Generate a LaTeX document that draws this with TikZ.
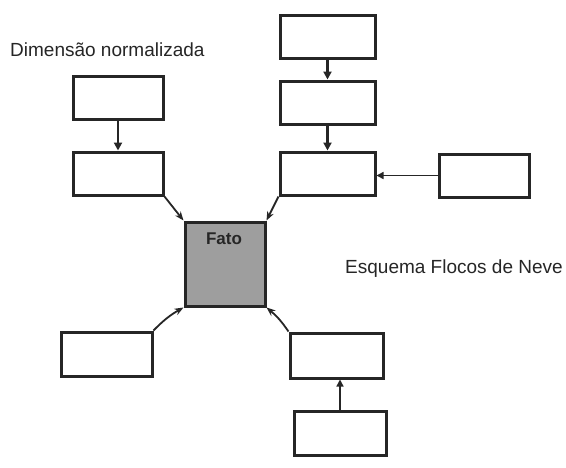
\documentclass[tikz,border=0pt]{standalone}
\usepackage{fontspec}
\setmainfont{Liberation Sans}
\usetikzlibrary{arrows.meta}
\begin{document}
\begin{tikzpicture}[x=1pt,y=-1pt,
  tbl/.style={draw=black!85, line width=3pt, fill=white, minimum width=90pt, minimum height=43pt, inner sep=0pt},
  fact/.style={draw=black!85, line width=3pt, fill=black!38, minimum width=80pt, minimum height=84pt, inner sep=0pt},
  link/.style={draw=black!85, line width=2.4pt, -{Triangle[length=8pt,width=8pt]}},
  diag/.style={draw=black!85, line width=1.8pt, -{Stealth[length=9pt,width=7pt]}},
  thin/.style={draw=black!85, line width=1.4pt, -{Triangle[length=7pt,width=7pt]}},
  lbl/.style={font=\fontsize{19}{21}\selectfont, text=black!85, inner sep=0pt}]
\useasboundingbox (0,0) rectangle (566,467);
\fill[white] (0,0) rectangle (566,467);
% normalized dimension chain on the left
\node[tbl] (a) at (118,97.5) {};
\node[tbl] (b) at (118,173.5) {};
% chain on the upper right
\node[tbl, minimum width=95pt] (c) at (327.5,36.5) {};
\node[tbl, minimum width=95pt] (d) at (327.5,102.5) {};
\node[tbl, minimum width=95pt] (e) at (327.5,173.5) {};
\node[tbl] (f) at (484,175.5) {};
% fact table
\node[fact] (fato) at (225,264) {};
\node[font=\bfseries\fontsize{17}{19}\selectfont, text=black!85] (fl) at (224,238.5) {Fato};
% lower dimensions
\node[tbl, minimum width=91pt, minimum height=44pt] (g) at (106.5,354) {};
\node[tbl, minimum width=93pt, minimum height=45pt] (h) at (336.5,355.5) {};
\node[tbl, minimum width=92pt, minimum height=44pt] (i) at (340,433) {};
% captions
\node[lbl, anchor=base west] (t1) at (10,56) {Dimensão normalizada};
\node[lbl, anchor=base west] (t2) at (345,273) {Esquema Flocos de Neve};
% connectors
\draw[link] (a.south) -- (b.north);
\draw[link] (c.south) -- (d.north);
\draw[link] (d.south) -- (e.north);
\draw[thin] (f.west) -- (f.west -| e.east);
\draw[diag] (b.south east) -- (fato.north west);
\draw[diag] (e.south west) -- (fato.north east);
\draw[diag] (g.north east) to[bend left=8] (fato.south west);
\draw[diag] (h.north west) to[bend right=8] (fato.south east);
\draw[thin] (i.north) -- (i.north |- h.south);
\end{tikzpicture}
\end{document}
